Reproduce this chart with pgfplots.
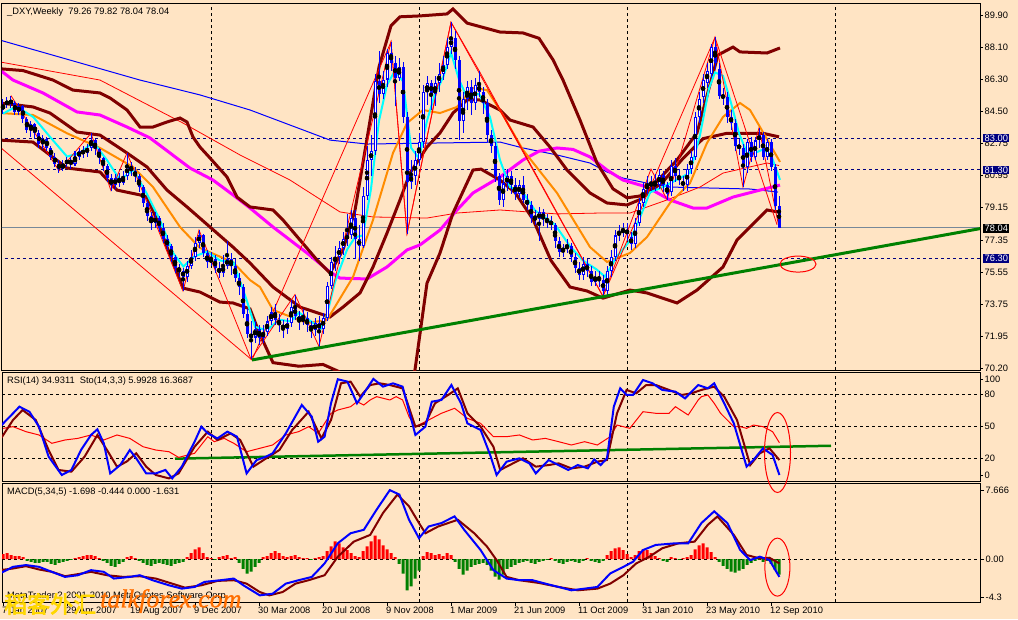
\documentclass[border=0pt]{standalone}
\usepackage{fontspec}
\setmainfont{Liberation Sans}
\newfontfamily\cjk[FakeBold=3]{Noto Sans CJK SC}
\newfontfamily\serifwm[FakeBold=1]{Liberation Serif}
\usepackage{pgfplots}
\pgfplotsset{compat=1.18}
\usepackage{pgfplotstable}
\definecolor{bg}{RGB}{255,228,196}
\definecolor{mtcyan}{RGB}{0,255,255}
\definecolor{mtorange}{RGB}{255,140,0}
\definecolor{mtmag}{RGB}{255,0,255}
\definecolor{mtmaroon}{RGB}{128,0,0}
\definecolor{mtgreen}{RGB}{0,128,0}
\definecolor{mtnavy}{RGB}{0,0,128}
\definecolor{mtslate}{RGB}{119,136,153}
\newcommand\fs{\fontsize{9.3}{11}\selectfont}
\pgfplotsset{mtpanel/.style={scale only axis, width=978pt, anchor=north west,
  xmin=-0.25, xmax=244.25, axis background/.style={fill=bg},
  axis line style={black, line width=1pt}, xtick=\empty,
  ytick pos=right, yticklabel pos=right, tick align=outside, major tick length=3pt,
  tick style={black, line width=0.6pt},
  yticklabel style={font=\fs, anchor=west, inner sep=0pt, xshift=1.5pt},
  major grid style={black, dash pattern=on 3pt off 3pt, line width=0.8pt},
  extra x ticks={52,104,156,208}, extra x tick labels={},
  extra x tick style={grid=major, major tick length=0pt}}}

\pgfplotstableread{
w o h l c
0 84.6 85.2 84.4 84.9
1 84.9 85.3 84.7 85.1
2 85.1 85.4 84.7 85.0
3 85.0 85.1 84.3 84.5
4 84.5 85.0 84.3 84.8
5 84.8 84.9 83.9 84.1
6 84.1 84.2 83.3 83.5
7 83.5 84.0 83.1 83.8
8 83.8 83.9 83.0 83.3
9 83.3 83.5 82.5 82.7
10 82.7 83.2 82.4 83.0
11 83.0 83.1 82.3 82.5
12 82.5 82.6 81.8 82.0
13 82.0 82.2 81.4 81.6
14 81.6 81.8 81.1 81.3
15 81.3 81.8 81.2 81.6
16 81.6 82.0 81.4 81.8
17 81.8 82.0 81.3 81.6
18 81.6 82.3 81.5 82.0
19 82.0 82.5 81.8 82.3
20 82.3 82.6 81.9 82.2
21 82.2 82.7 82.0 82.5
22 82.5 83.3 82.3 82.9
23 82.9 83.0 82.1 82.4
24 82.4 82.5 81.6 81.9
25 81.9 82.0 81.2 81.5
26 81.5 81.6 80.6 80.8
27 80.8 81.0 80.1 80.4
28 80.4 81.0 80.2 80.8
29 80.8 81.1 80.3 80.5
30 80.5 81.2 80.4 80.9
31 80.9 82.2 80.7 81.5
32 81.5 81.7 80.9 81.2
33 81.2 81.4 80.6 80.9
34 80.9 81.0 80.0 80.3
35 80.3 80.4 79.2 79.4
36 79.4 79.5 78.4 78.7
37 78.7 78.9 77.9 78.3
38 78.3 78.9 78.0 78.6
39 78.6 78.7 77.8 78.0
40 78.0 78.3 77.2 77.4
41 77.4 77.6 76.8 77.0
42 77.0 77.1 76.1 76.4
43 76.4 76.5 75.5 75.8
44 75.8 76.0 75.3 75.6
45 75.6 75.8 74.5 75.3
46 75.3 76.2 75.0 75.9
47 75.9 76.8 75.7 76.4
48 76.4 77.5 76.2 77.2
49 77.2 77.9 76.9 77.6
50 77.6 77.7 76.4 76.6
51 76.6 76.8 75.8 76.1
52 76.1 76.7 75.9 76.3
53 76.3 76.5 75.5 75.8
54 75.8 76.1 75.2 75.5
55 75.5 76.5 75.3 75.9
56 75.9 77.3 75.7 76.3
57 76.3 76.6 75.4 75.9
58 75.9 76.3 75.0 75.2
59 75.2 75.5 74.3 74.7
60 74.7 74.9 73.0 73.2
61 73.2 73.5 71.9 72.1
62 72.1 72.8 70.7 71.9
63 71.9 72.8 71.6 72.4
64 72.4 72.6 71.5 71.9
65 71.9 72.6 71.6 72.2
66 72.2 73.1 72.0 72.8
67 72.8 73.6 72.6 73.3
68 73.3 73.8 72.6 72.9
69 72.9 73.2 72.2 72.6
70 72.6 72.9 71.9 72.4
71 72.4 73.0 72.1 72.7
72 72.7 74.0 72.5 73.6
73 73.6 74.3 72.9 73.1
74 73.1 73.4 72.3 72.8
75 72.8 73.5 72.6 73.0
76 73.0 73.3 72.2 72.6
77 72.6 72.8 71.9 72.3
78 72.3 73.0 72.0 72.7
79 72.7 73.1 71.4 72.4
80 72.4 73.3 72.1 73.0
81 73.0 75.0 72.8 74.8
82 74.8 76.4 74.6 76.1
83 76.1 77.0 75.6 76.4
84 76.4 77.3 76.0 76.9
85 76.9 77.8 76.5 77.4
86 77.4 78.8 77.0 77.6
87 77.6 79.0 77.4 78.6
88 78.6 79.0 76.3 77.4
89 77.4 78.2 76.2 77.0
90 77.0 80.3 76.9 79.8
91 79.8 82.6 79.6 81.8
92 81.8 83.2 80.9 82.3
93 82.3 86.6 82.1 86.2
94 86.2 87.9 85.0 85.5
95 85.5 86.8 85.2 86.3
96 86.3 88.0 85.9 87.8
97 87.8 88.4 86.8 87.2
98 87.2 87.6 84.8 86.4
99 86.4 87.5 86.2 87.0
100 87.0 87.3 83.9 84.2
101 84.2 84.5 77.7 80.6
102 80.6 81.8 80.2 80.9
103 80.9 82.3 80.4 81.8
104 81.8 83.3 81.5 82.8
105 82.8 86.0 82.5 85.6
106 85.6 86.5 84.9 86.1
107 86.1 86.3 84.6 85.5
108 85.5 86.5 84.8 86.1
109 86.1 87.2 85.6 86.6
110 86.6 87.6 86.3 87.1
111 87.1 88.6 86.9 88.1
112 88.1 89.5 87.7 88.6
113 88.6 89.0 86.9 87.4
114 87.4 87.6 82.9 84.0
115 84.0 85.6 83.3 85.2
116 85.2 86.2 84.6 85.9
117 85.9 86.3 84.3 85.0
118 85.0 86.4 84.6 86.0
119 86.0 86.8 85.3 85.6
120 85.6 85.9 84.4 85.0
121 85.0 85.2 82.8 83.2
122 83.2 83.5 82.2 82.6
123 82.6 82.8 80.6 80.9
124 80.9 81.1 79.3 79.6
125 79.6 81.0 79.2 80.5
126 80.5 81.3 80.1 80.9
127 80.9 81.2 79.9 80.4
128 80.4 80.8 79.6 79.9
129 79.9 80.7 79.7 80.4
130 80.4 80.9 79.4 79.6
131 79.6 79.9 79.0 79.3
132 79.3 79.5 78.3 78.6
133 78.6 79.0 78.2 78.5
134 78.5 79.2 77.3 78.9
135 78.9 79.1 78.1 78.5
136 78.5 78.8 78.0 78.4
137 78.4 78.7 77.9 78.2
138 78.2 78.3 76.9 77.3
139 77.3 77.5 76.4 76.7
140 76.7 77.1 76.4 76.9
141 76.9 77.4 76.6 77.0
142 77.0 77.2 76.1 76.4
143 76.4 76.6 75.5 75.8
144 75.8 76.1 75.1 75.4
145 75.4 76.4 75.1 76.0
146 76.0 76.3 75.3 75.6
147 75.6 75.9 74.8 75.0
148 75.0 75.6 74.8 75.3
149 75.3 75.6 74.7 75.1
150 75.1 75.4 74.2 74.5
151 74.5 75.9 74.3 75.6
152 75.6 76.8 75.3 76.4
153 76.4 77.9 76.2 77.6
154 77.6 78.2 77.3 77.8
155 77.8 78.3 77.5 77.9
156 77.7 78.3 77.3 77.9
157 77.5 77.8 76.8 77.1
158 77.1 78.6 76.9 78.3
159 78.3 79.7 78.1 79.4
160 79.4 80.6 79.2 80.2
161 80.2 80.9 79.9 80.4
162 80.4 80.9 80.1 80.5
163 80.5 81.0 80.1 80.4
164 80.4 81.3 80.2 81.0
165 81.0 81.2 80.0 80.4
166 80.4 80.6 79.6 79.9
167 80.0 81.8 79.8 81.5
168 81.5 81.9 80.6 80.9
169 80.9 81.3 80.4 80.7
170 80.6 80.9 80.1 80.4
171 80.4 81.6 80.1 81.3
172 81.3 82.3 81.0 82.0
173 82.0 84.5 81.8 84.2
174 84.2 85.6 83.9 85.2
175 85.3 86.6 85.0 86.3
176 86.1 87.2 85.8 86.8
177 86.6 88.3 86.4 88.1
178 88.1 88.7 86.9 87.2
179 86.9 87.2 85.2 85.4
180 85.4 85.8 84.9 85.3
181 85.3 85.6 83.9 84.2
182 84.2 84.6 83.5 83.9
183 83.9 84.1 82.3 82.6
184 82.6 83.0 82.1 82.5
185 82.5 82.7 80.3 81.4
186 81.4 83.0 81.1 82.8
187 82.8 83.1 81.7 82.0
188 82.0 83.1 81.8 82.9
189 82.9 83.6 82.5 83.2
190 83.2 83.4 81.8 82.0
191 82.0 83.0 81.8 82.8
192 82.8 83.0 81.2 81.4
193 81.4 81.6 79.0 79.26
194 79.26 79.82 78.04 78.04
}\candles

\begin{document}
\begin{tikzpicture}[x=1pt,y=1pt]
\fill[bg] (0,0) rectangle (1018,-619);
\useasboundingbox (0,0) rectangle (1018,-619);

% ================= PRICE PANEL =================
\begin{axis}[mtpanel, at={(2pt,-3pt)}, height=367pt, ymin=70.09, ymax=90.57,
  ytick={89.90,88.10,86.30,84.50,82.75,80.95,79.15,77.35,75.55,73.75,71.95,70.20},
  yticklabels={89.90,88.10,86.30,84.50,82.75,80.95,79.15,77.35,75.55,73.75,71.95,70.20}]
% horizontal levels
\addplot[mtnavy, line width=0.9pt, dash pattern=on 3pt off 3pt] coordinates {(-1,83.00) (246,83.00)};
\addplot[mtnavy, line width=0.9pt, dash pattern=on 3pt off 3pt] coordinates {(-1,81.30) (246,81.30)};
\addplot[mtnavy, line width=0.9pt, dash pattern=on 3pt off 3pt] coordinates {(-1,76.30) (246,76.30)};
\addplot[mtslate, line width=1pt] coordinates {(-1,78.04) (246,78.04)};
% slow MAs
\addplot[blue, line width=1pt] coordinates {(-0.75,88.5) (34.25,86.27) (49.25,85.44) (61.75,84.6) (81.75,82.92) (91,82.7) (124.25,82.81) (130,82.48) (138.5,82.09) (146.75,81.64) (151,81.14) (155,80.8) (161,80.52) (166.75,80.3) (186.75,80.19) (193.75,80.02)};
\addplot[red, line width=0.8pt] coordinates {(-0.75,87.28) (24.25,86.27) (45,83.87) (59.25,82.09) (71.75,80.69) (84.25,78.91) (92.5,78.63) (106,78.57) (113.5,78.85) (124.25,79.02) (138.5,78.8) (149.25,78.85) (156.75,78.85) (166,79.58) (174.25,80.3) (180,81.08) (191,81.64) (194,81.5)};
\addplot[mtmag, line width=3pt] coordinates {(-0.75,86.83) (2.5,86.27) (10,85.55) (18.5,84.49) (24.25,84.32) (31,83.65) (36.75,83.04) (46.75,81.36) (52.5,80.69) (57.5,79.86) (61.75,79.13) (67.5,78.07) (76,76.62) (81.75,75.56) (84.25,75.22) (91,75.17) (96,75.84) (101,76.79) (104.25,77.07) (109.25,77.9) (113.5,79.02) (117.5,79.97) (124.25,80.86) (130,81.81) (134,82.3) (138.5,82.48) (142.5,82.4) (146.75,81.98) (151,81.25) (155,80.69) (161,80.3) (166.75,79.58) (172.5,79.13) (176,79.13) (182.5,79.74) (189.25,80.13) (194.25,80.41)};
% Bollinger bands
\addplot[mtmaroon, line width=3pt] coordinates {(-0.75,86.9) (5,86.8) (12.5,86.27) (17.5,85.71) (24.25,85.55) (26.75,85.27) (31,84.6) (34.25,83.65) (37.5,83.65) (41,83.93) (44.25,84.15) (46,83.93) (47.5,83.09) (49.25,82.53) (51.75,81.92) (56,80.86) (58.5,79.74) (61.75,79.19) (67.5,79.02) (70,78.46) (78.5,76.23) (81.75,75.5) (85,76.8) (88,79.0) (91,83.0) (94,87.0) (97,89.3) (99.25,89.8) (104.25,89.85) (111,89.96) (112.5,90.24) (116,89.45) (124.25,88.95) (130,88.9) (134,88.6) (137.5,87.4) (140,86.27) (144.25,84.04) (148.5,81.64) (152.5,80.2) (156,79.7) (159.25,79.8) (161.75,80.2) (168.5,81.81) (173.5,83.32) (178.75,87.67) (182.5,88.11) (184.25,87.84) (191,87.78) (194.25,88.06)};
\addplot[mtmaroon, line width=3pt] coordinates {(-0.75,84.99) (7.5,84.77) (11.75,84.43) (18.5,83.37) (24.25,83.2) (31,82.2) (36,81.42) (41,80.13) (46,79.19) (51.75,78.07) (57.5,76.95) (61.75,76.06) (67.5,74.72) (74.25,73.6) (81.75,73.05) (85,73.6) (89.25,74.39) (92.5,75.84) (96,77.73) (99.25,79.58) (101.75,81.08) (106,82.53) (109.25,83.32) (112.5,84.43) (116,85.16) (119.25,85.16) (124.25,84.6) (126.75,84.04) (132.5,83.65) (136.75,82.53) (141,81.25) (146.75,79.97) (151,79.41) (156,79.3) (159.25,79.6) (165,80.6) (170,81.9) (175,83.0) (181,83.3) (190,83.3) (194,83.1)};
\addplot[mtmaroon, line width=3pt] coordinates {(-0.75,82.92) (7.5,82.81) (16,81.36) (24.25,81.14) (28.5,80.13) (34.25,79.86) (36,79.74) (38.5,78.46) (41,76.95) (45,74.66) (49.25,74.44) (54.25,73.88) (57.5,73.83) (61.75,73.5) (64,72.2) (67.5,70.5) (74,70.3) (80,70.4) (84,70.0) (86,69.5) (90,67.5) (96,66.0) (100,68.5) (103,70.1) (106,74.94) (109.25,76.62) (112.5,78.85) (117.5,81.25) (119.5,81.3) (124.25,80.69) (128,80.0) (132.5,78.5) (137,76.2) (141.75,74.72) (146,74.5) (150,74.1) (156.75,74.55) (161,74.39) (168.5,73.83) (173.5,74.55) (180,75.84) (183.5,77.34) (186.75,78.07) (191,79.02) (194,78.9)};
% faster MAs
\addplot[mtorange, line width=2pt] coordinates {(-0.75,84.43) (7.5,84.32) (16,83.3) (24.25,82.48) (32.5,81.42) (37.5,80.3) (44.25,78.07) (49.25,76.9) (57.5,76.1) (61.75,75.11) (64.25,74.72) (67.5,73.44) (76,72.71) (81,72.88) (87.5,75.28) (92.5,78.46) (97.5,82.2) (101,83.87) (105,84.6) (109.25,84.43) (113.5,84.77) (117.5,85.83) (121,85.71) (124.25,84.6) (130,82.37) (138.5,79.97) (146.75,76.95) (151,76.12) (156.75,76.62) (161,77.51) (166.75,79.41) (171.75,80.52) (176,82.76) (180,84.21) (184.25,84.99) (186.75,84.6) (189.25,83.65) (194.25,81.7)};
\addplot[mtcyan, line width=2pt] coordinates {(0,84.4) (3.4,84.8) (7.6,84.2) (11.75,83.1) (16,82.0) (19.25,82.2) (22.6,82.8) (26,81.8) (29.25,80.7) (32.6,81.25) (35.9,79.95) (39.25,78.46) (42.6,76.6) (45.1,75.86) (47.6,76.4) (51,76.7) (54.25,76.2) (57.6,76.1) (60.9,74.0) (63,72.5) (66,72.3) (69,72.9) (72,72.8) (74,73.3) (77,72.8) (79.5,72.4) (81,73.2) (83,75.0) (86,76.8) (88,77.5) (90,77.6) (92,80.2) (94,84.0) (96,86.0) (98,86.8) (100,86.2) (102,82.5) (104,81.9) (106,84.0) (108,85.5) (110,86.4) (112,87.8) (114,86.3) (116,85.3) (119,85.5) (121.75,84.2) (124.25,81.8) (126.75,80.3) (130,80.0) (133,79.0) (138,78.2) (141.75,77.0) (145,76.2) (148.4,75.7) (150.5,75.3) (153.4,76.4) (156.75,77.3) (159.25,78.6) (161.75,80.0) (165,80.3) (168.4,80.7) (171.75,81.1) (174.25,83.2) (176.5,85.8) (178,86.7) (180,86.5) (182,85.0) (184,83.3) (186,82.2) (188,82.2) (190,82.4) (192,82.1) (194.25,80.7)};
% zigzags
\addplot[red, line width=0.8pt] coordinates {(-0.75,82.53) (62.25,70.65) (97,88.4) (101,77.7) (112,89.5) (150,74.2) (178,88.65) (193.5,78.2)};
\addplot[red, line width=0.8pt] coordinates {(2,85.4) (14,81.2) (22,83.3) (27,80.1) (31,82.2) (45,74.5) (49,77.9) (62,70.7) (73,74.3) (79,71.4) (97,88.4) (101,77.7) (112,89.5) (119,86.8) (150,74.2) (162,81.3) (166,79.6) (178,88.65) (185,80.3) (189,83.6) (194,78.04)};
% candles
\addplot[only marks, mark=none, error bars/.cd, y dir=both, y explicit, error mark=none,
  error bar style={draw=blue, line width=1pt}]
  table[x=w, y expr=(\thisrow{h}+\thisrow{l})/2, y error expr=(\thisrow{h}-\thisrow{l})/2] {\candles};
\addplot[only marks, mark=none, error bars/.cd, y dir=both, y explicit, error mark=none,
  error bar style={draw=blue, line width=3pt}]
  table[x=w, y expr=(\thisrow{o}+\thisrow{c})/2, y error expr={max(abs(\thisrow{o}-\thisrow{c})/2,0.03)}] {\candles};
\addplot[only marks, mark=none, error bars/.cd, y dir=both, y explicit, error mark=none,
  error bar style={draw=white, line width=1pt}]
  table[x=w, y expr=(\thisrow{o}+\thisrow{c})/2, y error expr={max((\thisrow{c}-\thisrow{o})/2-0.06,0)}] {\candles};
% trend line
\addplot[mtgreen, line width=3pt] coordinates {(62.25,70.65) (244.25,77.98)};
\draw[red, line width=1pt] (axis cs:198.75,76.0) ellipse [x radius=18pt, y radius=8pt];
\node[anchor=north west, font=\fs, inner sep=0pt] at (rel axis cs:0,1) [xshift=5pt, yshift=-5pt] {\_DXY,Weekly\ \ 79.26 79.82 78.04 78.04};
\end{axis}

% ================= RSI / STOCH PANEL =================
\begin{axis}[mtpanel, at={(2pt,-372pt)}, height=109pt, ymin=-0.94, ymax=101.2,
  ytick={4.7,20,50,80,94.7}, yticklabels={0,20,50,80,100},
  extra y ticks={20,50,80}, extra y tick labels={}, extra y tick style={grid=major}]
\addplot[mtgreen, line width=2.5pt] coordinates {(43,20.0) (207,32.1)};
\addplot[red, line width=1pt] coordinates {(0.06,48.4) (2.5,50.0) (5.74,45.3) (8.99,42.2) (12.2,34.4) (15.5,37.5) (18.7,39.0) (22.0,42.2) (25.2,37.5) (28.5,42.2) (31.7,39.0) (35.0,31.2) (38.2,28.1) (41.5,26.5) (43.9,21.2) (47.9,25.0) (51.2,40.6) (52.8,35.9) (55.3,39.0) (57.7,34.4) (60.9,26.5) (64.2,29.7) (67.4,32.8) (70.7,42.2) (73.9,45.3) (76.4,50.0) (78.8,43.7) (80.4,53.1) (82.0,62.5) (83.7,65.6) (86.9,68.7) (88.5,73.4) (90.2,70.3) (91.8,75.0) (93.4,78.1) (96.7,75.0) (98.3,78.1) (99.9,75.0) (101.5,59.3) (103.1,50.0) (106.4,56.2) (109.6,62.5) (112.9,67.2) (116.1,57.8) (119.4,53.1) (122.6,40.6) (125.9,40.6) (129.1,42.2) (132.4,37.5) (135.6,39.0) (138.9,35.9) (142.1,32.8) (145.4,35.9) (148.6,32.8) (151.8,40.6) (153.5,51.5) (156.7,48.4) (160.0,64.0) (163.2,62.5) (166.5,62.5) (168.1,68.7) (171.3,60.9) (173.8,75.0) (174.6,78.1) (176.2,79.7) (177.8,71.9) (179.4,62.5) (182.7,50.0) (184.3,50.0) (185.9,48.4) (187.6,51.5) (190.0,50.0) (192.4,45.3) (194.1,34.9)};
\addplot[mtmaroon, line width=2pt] coordinates {(-0.75,37.5) (2.5,56.2) (4.9,65.6) (8.2,56.2) (11.4,28.1) (13.9,9.4) (17.1,7.8) (20.4,21.9) (23.6,42.2) (26.0,28.1) (28.5,12.5) (30.9,17.2) (33.3,25.0) (35.8,12.5) (38.2,4.7) (41.5,1.5) (43.9,6.2) (47.9,31.2) (51.2,45.3) (53.6,37.5) (56.9,43.7) (59.3,37.5) (62.6,12.5) (65.8,20.3) (69.1,28.1) (72.3,46.9) (76.4,64.0) (79.6,39.0) (82.0,56.2) (84.5,90.6) (86.9,92.2) (89.3,78.1) (91.8,89.0) (94.2,90.6) (96.7,89.0) (99.9,85.9) (103.1,50.0) (105.6,53.1) (108.0,71.9) (111.3,79.7) (113.7,85.9) (116.1,62.5) (119.4,50.0) (122.6,31.2) (124.3,9.4) (127.5,15.6) (130.0,20.3) (133.2,12.5) (136.4,14.0) (138.9,15.6) (142.1,10.9) (145.4,12.5) (148.6,17.2) (151.0,18.7) (153.5,62.5) (155.9,84.4) (158.3,81.2) (160.8,89.0) (163.2,89.0) (166.5,84.4) (169.7,79.7) (172.1,81.2) (174.6,84.4) (177.8,87.5) (180.3,78.1) (183.5,56.2) (186.8,14.0) (189.2,25.0) (191.6,29.7) (194.1,18.7)};
\addplot[blue, line width=2pt] coordinates {(-0.75,50.0) (1.7,59.3) (4.1,68.7) (6.6,64.0) (9.0,50.0) (11.4,21.9) (14.7,4.7) (17.1,9.4) (19.5,28.1) (22.0,42.2) (23.6,47.5) (25.2,34.4) (26.8,6.2) (29.3,14.0) (31.7,28.1) (33.3,20.3) (35.8,6.2) (38.2,6.2) (40.6,9.4) (42.3,1.5) (44.7,12.5) (47.9,35.9) (49.6,50.0) (51.2,43.7) (53.6,39.0) (56.1,45.3) (58.5,40.6) (60.9,6.2) (63.4,18.7) (65.8,21.9) (67.4,25.0) (70.7,43.7) (74.7,70.3) (77.2,59.3) (78.8,35.9) (80.4,40.6) (82.0,71.9) (83.7,94.4) (86.1,92.2) (88.5,71.9) (90.2,81.2) (92.6,94.7) (95.0,87.5) (97.5,90.6) (99.9,87.5) (103.1,42.2) (105.6,50.0) (107.2,73.4) (109.6,75.0) (112.1,89.0) (114.5,71.9) (116.1,53.1) (119.4,46.9) (121.8,23.4) (123.4,4.7) (125.9,17.2) (129.1,20.3) (131.6,15.6) (133.2,6.2) (136.4,18.7) (138.9,14.0) (141.3,9.4) (143.7,14.0) (146.2,10.9) (147.8,19.3) (149.4,14.0) (151.0,20.3) (152.7,68.7) (154.3,85.9) (155.9,79.7) (157.5,79.7) (160.0,93.7) (162.4,90.6) (164.8,84.4) (168.1,82.8) (170.5,76.5) (173.8,89.0) (176.2,85.9) (177.8,90.6) (180.3,71.9) (182.7,53.1) (185.9,12.5) (187.6,18.7) (190.0,29.7) (192.4,23.4) (194.1,4.7)};
\node[anchor=north west, font=\fs, inner sep=0pt] at (rel axis cs:0,1) [xshift=5pt, yshift=-5pt] {RSI(14) 34.9311\ \ Sto(14,3,3) 5.9928 16.3687};
\end{axis}

% ================= MACD PANEL =================
\begin{axis}[mtpanel, at={(2pt,-483pt)}, height=119pt, ymin=-4.4, ymax=7.78,
  ytick={6.99,0,-3.89}, yticklabels={7.666,0.00,-4.3},
  extra y ticks={0}, extra y tick labels={}, extra y tick style={grid=major},
  xtick={0,16,...,192}, xtick pos=left, major tick length=4pt,
  xticklabels={7 Jan 2007,29 Apr 2007,19 Aug 2007,9 Dec 2007,30 Mar 2008,20 Jul 2008,9 Nov 2008,1 Mar 2009,21 Jun 2009,11 Oct 2009,31 Jan 2010,23 May 2010,12 Sep 2010},
  xticklabel style={font=\fs, anchor=north west, inner sep=0pt, xshift=-1pt, yshift=-0.5pt}]
\addplot[ybar, bar width=3pt, bar shift=0pt, fill=red, draw=none] coordinates {(0,0.5) (1,0.6) (2,0.4) (3,0.3) (4,0.3) (5,0.2) (18,0.1) (19,0.2) (20,0.3) (21,0.4) (22,0.4) (23,0.3) (24,0.1) (31,0.2) (32,0.3) (33,0.1) (46,0.2) (47,0.6) (48,1.0) (49,1.2) (50,0.6) (51,0.2) (52,0.1) (54,0.2) (55,0.3) (56,0.4) (57,0.1) (58,0.2) (65,0.2) (66,0.3) (67,0.6) (68,0.8) (69,0.6) (70,0.3) (71,0.2) (72,0.3) (73,0.4) (74,0.2) (75,0.1) (76,0.1) (78,0.1) (79,0.2) (80,0.3) (81,0.8) (82,1.3) (83,1.8) (84,1.6) (85,1.2) (86,0.9) (87,0.6) (88,0.3) (89,0.2) (90,0.8) (91,1.3) (92,1.8) (93,2.4) (94,2.0) (95,1.4) (96,1.0) (97,0.6) (98,0.2) (105,0.3) (106,0.7) (107,0.6) (108,0.4) (109,0.5) (110,0.3) (111,0.6) (112,0.4) (137,0.1) (146,0.1) (151,0.4) (152,0.8) (153,1.1) (154,1.2) (155,0.9) (156,0.5) (157,0.2) (158,0.4) (159,0.8) (160,1.0) (161,0.9) (162,0.6) (163,0.3) (164,0.1) (167,0.2) (168,0.1) (170,0.1) (171,0.2) (172,0.4) (173,1.0) (174,1.4) (175,1.6) (176,1.2) (177,0.7) (178,0.2)};
\addplot[ybar, bar width=3pt, bar shift=0pt, fill=mtgreen, draw=none] coordinates {(6,-0.2) (7,-0.3) (8,-0.4) (9,-0.4) (10,-0.3) (11,-0.3) (12,-0.5) (13,-0.6) (14,-0.4) (15,-0.3) (16,-0.2) (17,-0.1) (25,-0.2) (26,-0.4) (27,-0.7) (28,-0.8) (29,-0.5) (30,-0.3) (34,-0.2) (35,-0.4) (36,-0.6) (37,-0.7) (38,-0.5) (39,-0.4) (40,-0.5) (41,-0.6) (42,-0.7) (43,-0.5) (44,-0.4) (45,-0.3) (53,-0.1) (59,-0.4) (60,-1.0) (61,-1.5) (62,-1.3) (63,-0.8) (64,-0.4) (77,-0.1) (99,-0.5) (100,-1.5) (101,-3.2) (102,-2.8) (103,-2.0) (104,-1.2) (113,-0.3) (114,-1.0) (115,-1.6) (116,-1.2) (117,-0.8) (118,-0.6) (119,-0.5) (120,-0.4) (121,-0.6) (122,-1.2) (123,-1.8) (124,-2.1) (125,-1.6) (126,-1.0) (127,-0.8) (128,-0.6) (129,-0.4) (130,-0.3) (131,-0.2) (132,-0.4) (133,-0.5) (134,-0.3) (135,-0.2) (136,-0.1) (138,-0.2) (139,-0.4) (140,-0.5) (141,-0.3) (142,-0.2) (143,-0.3) (144,-0.4) (145,-0.2) (147,-0.2) (148,-0.3) (149,-0.4) (150,-0.2) (165,-0.2) (166,-0.3) (169,-0.1) (179,-0.3) (180,-0.7) (181,-1.0) (182,-1.3) (183,-1.4) (184,-1.2) (185,-1.0) (186,-0.6) (187,-0.4) (188,-0.2) (189,-0.1) (190,-0.3) (191,-0.2) (192,-0.5) (193,-1.1) (194,-1.6)};
\addplot[mtmaroon, line width=2pt] coordinates {(-0.75,-1.14) (2.5,-0.97) (5.74,-0.73) (9.0,-1.07) (12.2,-1.31) (15.5,-1.76) (18.7,-1.55) (22.0,-1.31) (26.0,-1.66) (30.1,-1.83) (34.2,-1.76) (38.2,-2.0) (42.3,-2.52) (45.5,-2.93) (49.6,-2.69) (53.6,-2.24) (57.7,-2.17) (60.9,-2.52) (64.2,-3.38) (66.6,-3.72) (69.9,-3.38) (73.1,-2.52) (76.4,-2.17) (80.4,-1.66) (83.7,0.24) (87.7,1.78) (91.8,2.47) (95.0,4.71) (98.6,6.60) (101.5,5.40) (104.0,3.68) (105.6,2.64) (108.8,3.33) (113.7,4.02) (117.8,2.64) (121.0,1.27) (123.4,-0.11) (125.9,-1.83) (129.1,-2.17) (134.0,-2.45) (138.9,-2.86) (143.7,-3.20) (148.6,-3.03) (151.8,-2.52) (155.1,-1.66) (158.3,-0.45) (161.6,0.24) (164.8,1.10) (168.9,1.61) (172.9,1.78) (176.2,3.50) (178.6,4.36) (182.7,2.47) (185.9,0.41) (189.2,0.06) (191.6,0.13) (194.1,-0.45)};
\addplot[blue, line width=2pt] coordinates {(-0.75,-1.48) (2.5,-0.80) (5.74,-0.62) (9.0,-0.80) (12.2,-1.31) (15.5,-1.83) (18.7,-1.66) (22.0,-1.14) (25.2,-1.31) (27.7,-2.0) (31.7,-1.83) (34.2,-1.66) (37.4,-2.17) (41.5,-2.69) (44.7,-3.03) (47.9,-2.86) (50.4,-2.34) (54.4,-2.17) (57.7,-2.0) (60.1,-2.69) (64.2,-3.72) (67.4,-3.55) (70.7,-2.52) (73.9,-2.17) (77.2,-1.83) (80.4,-0.45) (83.7,1.61) (86.9,2.64) (90.2,2.99) (93.4,5.05) (96.7,7.05) (99.1,6.60) (101.5,4.02) (104.0,2.13) (106.4,3.33) (109.6,3.68) (112.9,4.36) (115.3,2.99) (119.4,0.92) (122.6,-1.14) (125.9,-2.0) (129.1,-2.17) (132.4,-2.17) (135.6,-2.52) (138.9,-2.86) (142.1,-3.20) (145.4,-3.03) (148.6,-2.86) (151.8,-1.48) (155.1,-0.80) (157.5,-0.28) (160.0,0.92) (163.2,1.44) (168.1,1.61) (171.3,1.61) (174.6,3.68) (177.8,4.88) (181.1,3.68) (184.3,0.92) (186.8,-0.11) (189.2,0.24) (191.6,-0.11) (194.1,-1.83)};
\draw[red, line width=1pt] (axis cs:193.6,-0.83) ellipse [x radius=12.5pt, y radius=29pt];
\node[anchor=north west, font=\fs, inner sep=0pt] at (rel axis cs:0,1) [xshift=5pt, yshift=-5pt] {MACD(5,34,5) -1.698 -0.444 0.000 -1.631};
\node[anchor=west, font=\fs, inner sep=0pt] at (rel axis cs:0,0) [xshift=5pt, yshift=6pt] {MetaTrader ? 2001-2010 MetaQuotes Software Corp.};
\end{axis}

% RSI ellipse spanning into MACD panel
\draw[red, line width=1pt] (777.5,-452.5) ellipse [x radius=13, y radius=40];

% price labels on the right
\node[fill=mtnavy, text=white, font=\fs, inner xsep=1.5pt, inner ysep=1pt, anchor=west] at (983,-138) {83.00};
\node[fill=mtnavy, text=white, font=\fs, inner xsep=1.5pt, inner ysep=1pt, anchor=west] at (983,-170) {81.30};
\node[fill=black, text=white, font=\fs, inner xsep=1.5pt, inner ysep=1pt, anchor=west] at (983,-228.5) {78.04};
\node[fill=mtnavy, text=white, font=\fs, inner xsep=1.5pt, inner ysep=1pt, anchor=west] at (983,-258.5) {76.30};

% watermark
\node[anchor=west, inner sep=0pt, text={rgb,255:red,255;green,215;blue,0}, font=\cjk\fontsize{23}{23}\selectfont] at (4,-604) {稻客外汇};
\node[anchor=west, inner sep=0pt, text={rgb,255:red,255;green,110;blue,0}, font=\serifwm\itshape\fontsize{26}{26}\selectfont] at (100,-601) {talkforex.com};
\end{tikzpicture}
\end{document}
